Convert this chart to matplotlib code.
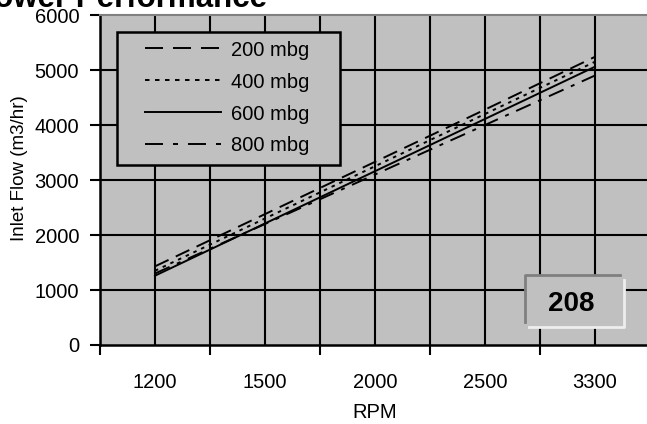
import matplotlib
matplotlib.use("Agg")
import matplotlib.pyplot as plt
from matplotlib.lines import Line2D
from matplotlib.patches import Rectangle

plt.rcParams['font.family'] = ['Liberation Sans', 'DejaVu Sans']
plt.rcParams['lines.scale_dashes'] = False

rpm_labels = ["1200", "1500", "2000", "2500", "3300"]
flow_200 = [1430, 2380, 3330, 4280, 5240]
flow_400 = [1350, 2300, 3250, 4200, 5150]
flow_600 = [1260, 2210, 3160, 4110, 5060]
flow_800 = [1300, 2200, 3100, 4000, 4900]
series_labels = ["200 mbg", "400 mbg", "600 mbg", "800 mbg"]

W, H = 647, 424
fig = plt.figure(figsize=(W / 100, H / 100), dpi=100)
ax = fig.add_axes([100 / W, (H - 345) / H, 550 / W, 330 / H])
ax.set_facecolor('#C0C0C0')


def fx(v):
    return v / W


def fy(v):
    return 1 - v / H


x = list(range(len(rpm_labels)))
px = 0.72  # points per pixel
styles = [
    dict(dashes=(15 * px, 8 * px)),
    dict(dashes=(3.5 * px, 5 * px)),
    dict(linestyle='-'),
    dict(dashes=(16 * px, 8 * px, 4 * px, 8 * px)),
]
legend_styles = [
    dict(dashes=(18 * px, 10 * px)),
    dict(dashes=(4.5 * px, 5.5 * px)),
    dict(linestyle='-'),
    dict(dashes=(18 * px, 10 * px, 5 * px, 10 * px)),
]
series = [flow_200, flow_400, flow_600, flow_800]
for vals, st, lab in zip(series, styles, series_labels):
    ax.plot(x, vals, color='black', lw=1.4, label=lab, **st)

ax.set_xlim(-0.5, len(rpm_labels) - 0.5)
ax.set_ylim(0, 6000)
ax.set_yticks(range(0, 6001, 1000))
ax.set_xticks([i - 0.5 for i in range(len(rpm_labels) + 1)])
ax.set_xticklabels([])
ax.set_xticks(x, minor=True)
ax.set_xticklabels(rpm_labels, minor=True)
ax.tick_params(axis='x', which='minor', length=0, pad=20, labelsize=14.5)
ax.tick_params(axis='x', which='major', length=7, width=1.5, direction='out')
ax.tick_params(axis='y', length=7, width=1.5, direction='out', labelsize=14.5, pad=8)

for v in [i * 0.5 - 0.5 for i in range(2 * len(rpm_labels) + 1)]:
    ax.axvline(v, color='black', lw=1.5, zorder=0.5)
for v in range(1000, 6000, 1000):
    ax.axhline(v, color='black', lw=1.5, zorder=0.5)

ax.spines['top'].set_color('#808080')
ax.spines['top'].set_linewidth(1.5)
ax.spines['right'].set_visible(False)
ax.spines['left'].set_linewidth(1.8)
ax.spines['bottom'].set_linewidth(1.8)

ax.set_ylabel('Inlet Flow (m3/hr)', fontsize=13.5)
ax.yaxis.set_label_coords((28 - 100) / 550, (345 - 168) / 330)
ax.set_xlabel('RPM', fontsize=14.5, labelpad=8)

# legend box drawn by hand to match the layout
fig.patches.append(Rectangle((fx(117), fy(165)), fx(340) - fx(117), fy(32) - fy(165),
                             transform=fig.transFigure, facecolor='#C0C0C0',
                             edgecolor='black', lw=1.8, zorder=5))
row_y = [48, 80, 112, 144]
for ry, st, lab in zip(row_y, legend_styles, series_labels):
    fig.lines.append(Line2D([fx(145), fx(221)], [fy(ry), fy(ry)],
                            transform=fig.transFigure, color='black', lw=1.4,
                            zorder=6, **st))
    fig.text(fx(231), fy(ry), lab, fontsize=14.5, ha='left', va='center_baseline',
             zorder=6)

fig.text(267 / W, 1 - 7 / H, 'Blower Performance', fontsize=22.5, fontweight='bold',
         ha='right', va='baseline')

# "208" box
fig.patches.append(Rectangle((fx(525), fy(327)), fx(624) - fx(525), fy(275) - fy(327),
                             transform=fig.transFigure, facecolor='#C0C0C0',
                             edgecolor='none', zorder=5))
fig.lines.append(Line2D([fx(525), fx(525), fx(620)], [fy(322), fy(275), fy(275)],
                        transform=fig.transFigure, color='#808080', lw=2, zorder=6))
fig.lines.append(Line2D([fx(529), fx(624), fx(624)], [fy(327), fy(327), fy(280)],
                        transform=fig.transFigure, color='#EEEEEE', lw=2, zorder=6))
fig.text(fx(571), fy(304), '208', fontsize=20, fontweight='bold', ha='center',
         va='center', zorder=7)

fig.savefig('out.png', dpi=100)
